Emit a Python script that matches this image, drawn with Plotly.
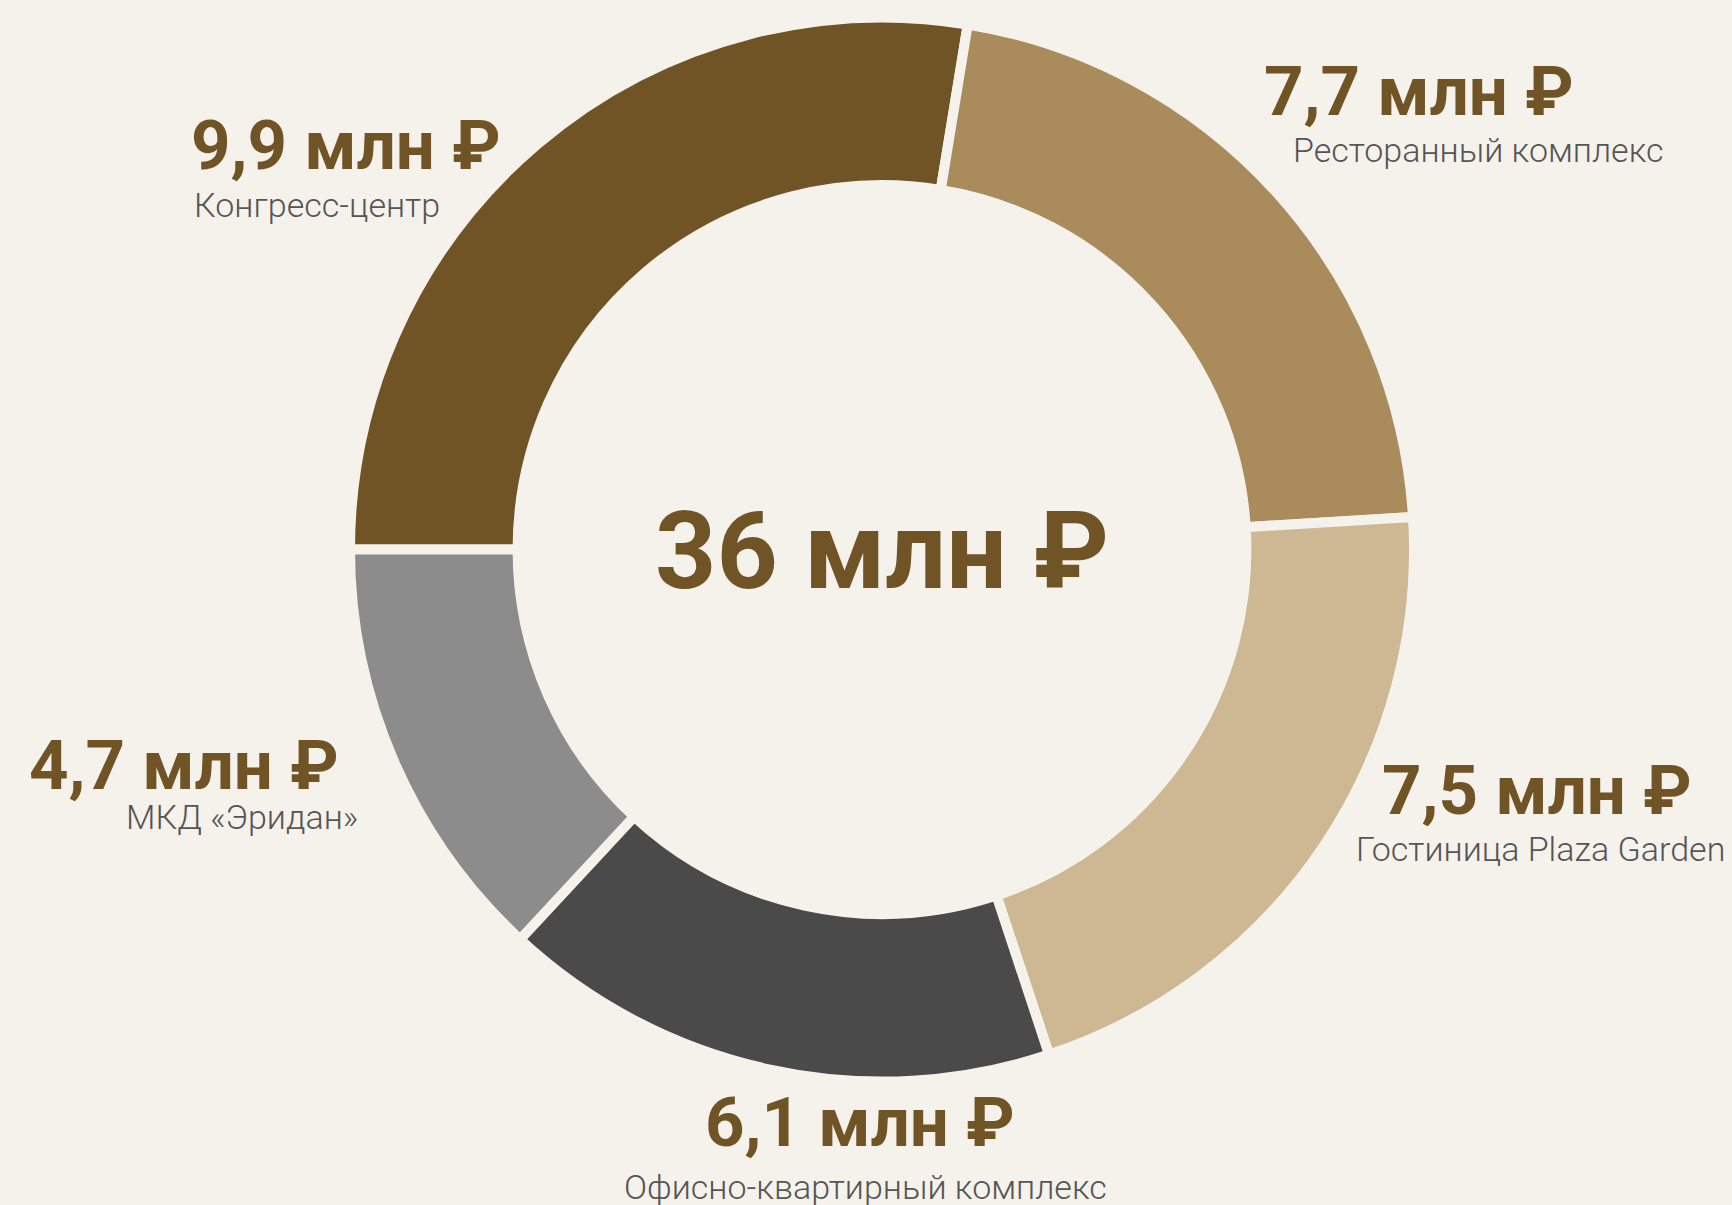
import plotly.graph_objects as go

W, H = 1732, 1205

# данные
objects = ["Конгресс-центр", "Ресторанный комплекс", "Гостиница Plaza Garden",
           "Офисно-квартирный комплекс", "МКД «Эридан»"]
values = [9.9, 7.7, 7.5, 6.1, 4.7]
value_labels = ["9,9 млн ₽", "7,7 млн ₽", "7,5 млн ₽", "6,1 млн ₽", "4,7 млн ₽"]
colors = ["#705425", "#AA8B5C", "#CEB793", "#4A4A4A", "#8C8C8C"]
total_label = "36 млн ₽"

bg = "#F5F2EB"
brown = "#705425"
grey_txt = "#555555"

# положение подписей в пикселях
# сумма: (центр x, центр y), название: (центр x, центр y)
value_pos = [(346, 145), (1419, 92), (1537, 790), (860, 1122), (184, 765)]
name_pos = [(317, 205), (1478, 150), (1540, 849), (865, 1187), (242, 817)]

# центр и радиус кольца (px)
cx, cy, r = 882, 549.5, 532

fig = go.Figure(go.Pie(
    labels=objects,
    values=values,
    hole=0.685,
    sort=False,
    direction="clockwise",
    rotation=270,
    marker=dict(colors=colors, line=dict(color=bg, width=10)),
    textinfo="none",
    hoverinfo="label+value",
    domain=dict(x=[(cx - r) / W, (cx + r) / W],
                y=[(H - cy - r) / H, (H - cy + r) / H]),
))

annotations = [dict(x=cx / W, y=1 - 552 / H, xref="paper", yref="paper",
                    text=total_label, showarrow=False,
                    xanchor="center", yanchor="middle",
                    font=dict(family="Roboto", size=107, color=brown, weight=700))]

for val, (x, y) in zip(value_labels, value_pos):
    annotations.append(dict(x=x / W, y=1 - y / H, xref="paper", yref="paper",
                            text=val, showarrow=False,
                            xanchor="center", yanchor="middle",
                            font=dict(family="Roboto", size=69, color=brown, weight=700)))

for name, (x, y) in zip(objects, name_pos):
    annotations.append(dict(x=x / W, y=1 - y / H, xref="paper", yref="paper",
                            text=name, showarrow=False,
                            xanchor="center", yanchor="middle",
                            font=dict(family="Roboto", size=34, color=grey_txt, weight=300)))

fig.update_layout(width=W, height=H, margin=dict(l=0, r=0, t=0, b=0),
                  paper_bgcolor=bg, plot_bgcolor=bg, showlegend=False,
                  annotations=annotations)

fig.write_html("out.html", config={"displayModeBar": False},
               post_script="document.body.style.margin='0';document.body.style.overflow='hidden';")
